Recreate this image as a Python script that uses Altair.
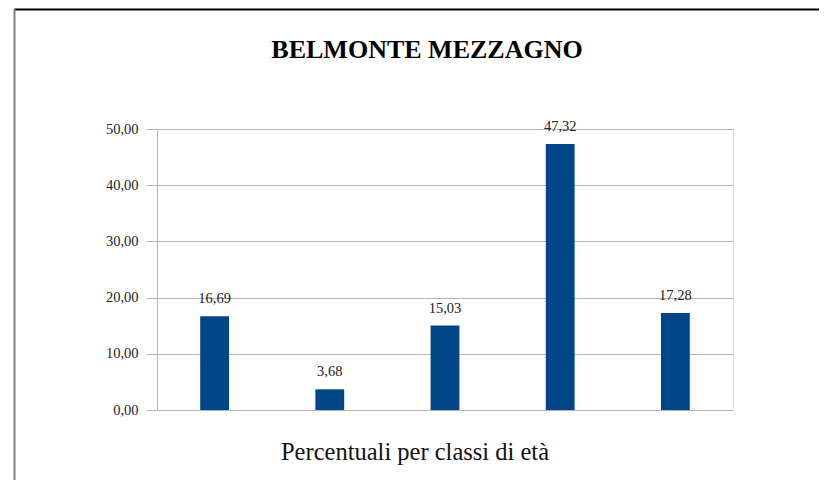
import altair as alt
import pandas as pd

categories = ["0-14", "15-19", "20-39", "40-64", "65+"]
values = [16.69, 3.68, 15.03, 47.32, 17.28]
title_text = "BELMONTE MEZZAGNO"
x_title = "Percentuali per classi di età"
y_ticks = [0, 10, 20, 30, 40, 50]

df = pd.DataFrame({"cat": categories, "val": values})

W, H = 576, 281
FONT = "Liberation Serif"

x_enc = alt.X("cat:N", sort=categories,
              scale=alt.Scale(paddingInner=0.75, paddingOuter=0.375),
              axis=alt.Axis(labels=False, ticks=False, title=None, domain=True,
                            domainColor="#b3b3b3", grid=False))
y_enc = alt.Y("val:Q", scale=alt.Scale(domain=[0, 50], nice=False),
              axis=alt.Axis(values=y_ticks, title=None, grid=True, gridColor="#b3b3b3",
                            domainColor="#b3b3b3", tickColor="#b3b3b3", tickSize=11,
                            labelPadding=8, labelFont=FONT, labelFontSize=14.5,
                            labelColor="#222222",
                            labelExpr="replace(format(datum.value, '.2f'), '.', ',')"))

bars = alt.Chart(df).mark_bar(color="#004586").encode(x=x_enc, y=y_enc)

labels = alt.Chart(df).transform_calculate(
    lab="replace(format(datum.val, '.2f'), '.', ',')"
).mark_text(font=FONT, fontSize=14.5, dy=-13, baseline="alphabetic", color="#222222").encode(
    x=alt.X("cat:N", sort=categories), y="val:Q", text="lab:N")

title_df = pd.DataFrame({"t": [title_text]})
title = alt.Chart(title_df).mark_text(font=FONT, fontSize=26, fontWeight="bold",
                                      baseline="alphabetic", color="#000000").encode(
    x=alt.value(270), y=alt.value(-71), text="t:N")

xt_df = pd.DataFrame({"t": [x_title]})
xtitle = alt.Chart(xt_df).mark_text(font=FONT, fontSize=24.5, baseline="alphabetic",
                                    color="#111111").encode(
    x=alt.value(258), y=alt.value(331), text="t:N")

border_top = alt.Chart(title_df).mark_rule(color="#000000", strokeWidth=2).encode(
    x=alt.value(-143), x2=alt.value(700), y=alt.value(-119.5))
border_left = alt.Chart(title_df).mark_rule(color="#808080", strokeWidth=2).encode(
    x=alt.value(-142.5), y=alt.value(-120), y2=alt.value(400))

chart = alt.layer(bars, labels, title, xtitle, border_top, border_left).properties(
    width=W, height=H,
    autosize=alt.AutoSizeParams(type="none"),
    padding={"left": 149, "top": 121, "right": 86, "bottom": 70},
).configure_view(stroke="#b3b3b3").configure(background="white")

chart.save("out.html", embed_options={"renderer": "svg", "actions": False})
